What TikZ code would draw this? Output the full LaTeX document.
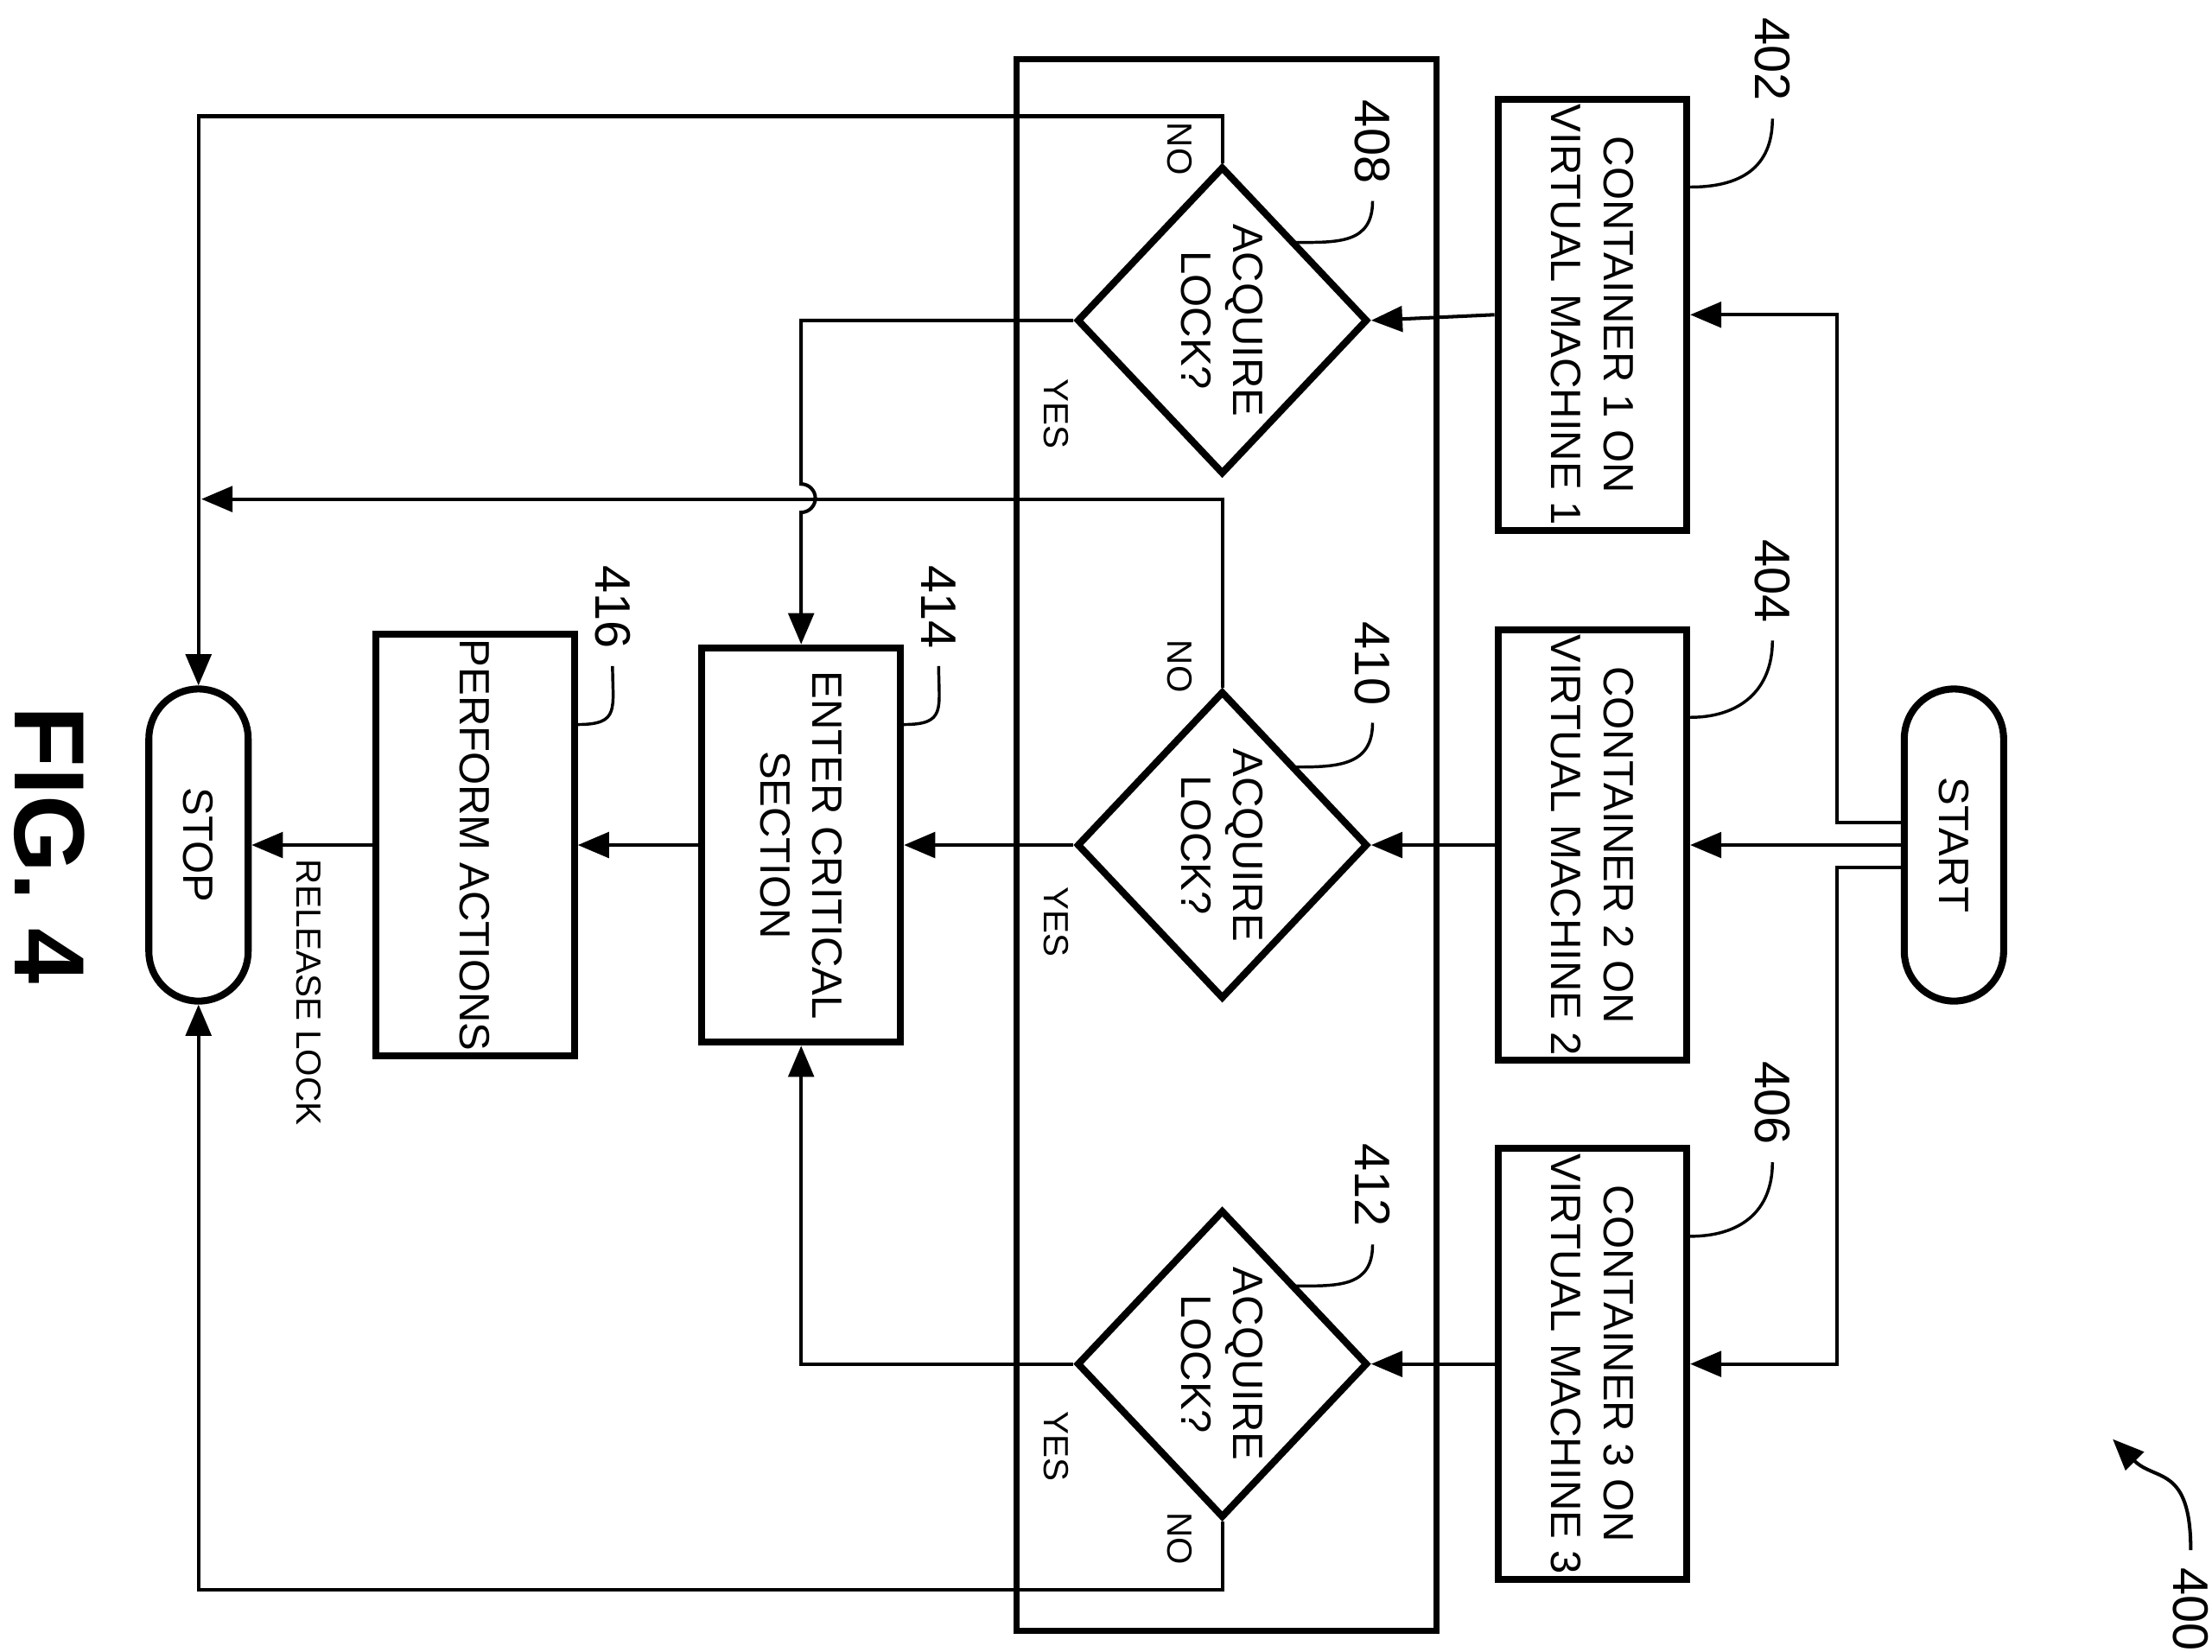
\documentclass[tikz,border=0pt]{standalone}
\usepackage{fontspec}
\setmainfont{Liberation Sans}
\usetikzlibrary{arrows.meta}
\usetikzlibrary{positioning, shapes.geometric, calc}

\tikzset{
  box/.style={draw, line width=1.4pt, rotate=-90, minimum width=2.78cm, minimum height=1.33cm, inner sep=1pt, align=center, font=\fontsize{8.5}{10.5}\selectfont},
  dec/.style={draw, line width=1.4pt, diamond, rotate=-90, minimum width=2.17cm, minimum height=2.05cm, inner sep=0pt, align=center, font=\fontsize{8.5}{10.5}\selectfont},
  term/.style={draw, line width=1.4pt, rounded corners=0.35cm, rotate=-90, minimum width=2.2cm, minimum height=0.7cm, font=\fontsize{8.5}{10.5}\selectfont},
  arr/.style={line width=0.7pt, -{Triangle[length=2.2mm,width=1.8mm]}},
  lbl/.style={rotate=-90, font=\fontsize{7}{9}\selectfont},
  num/.style={rotate=-90, font=\fontsize{10}{12}\selectfont},
  lead/.style={line width=0.6pt}
}

\begin{document}
\begin{tikzpicture}[x=0.01cm, y=-0.01cm]
\useasboundingbox (0,0) rectangle (1560,1165);

\draw[line width=1.2pt] (717,42) rectangle (1013,1150);

\node[term] (start) at (1378,596) {START};
\node[box] (c402) at (1123,222) {CONTAINER 1 ON\\VIRTUAL MACHINE 1};
\node[box] (c404) at (1123,596) {CONTAINER 2 ON\\VIRTUAL MACHINE 2};
\node[box] (c406) at (1123,962) {CONTAINER 3 ON\\VIRTUAL MACHINE 3};
\node[dec] (d408) at (862,226) {ACQUIRE\\LOCK?};
\node[dec] (d410) at (862,596) {ACQUIRE\\LOCK?};
\node[dec] (d412) at (862,962) {ACQUIRE\\LOCK?};
\node[box, minimum height=1.4cm] (c414) at (565,596) {ENTER CRITICAL\\SECTION};
\node[box, minimum height=1.4cm] (c416) at (335,596) {PERFORM ACTIONS};
\node[term] (stop) at (140,596) {STOP};

% --- Transitions ---
\draw[arr] (start.south) -- (c404.north);
\draw[arr] ([yshift=0.16cm]start.south) -- ++(-45,0) |- (c402.north);
\draw[arr] ([yshift=-0.16cm]start.south) -- ++(-45,0) |- (c406.north);
\draw[arr] (c402.south) -- (d408.north);
\draw[arr] (c404.south) -- (d410.north);
\draw[arr] (c406.south) -- (d412.north);
\draw[arr] (d408.south) -| ([yshift=1.13cm]c414.west) arc[start angle=90, end angle=-90, radius=0.1cm] -- (c414.west);
\draw[arr] (d410.south) -- (c414.north);
\draw[arr] (d412.south) -| (c414.east);
\draw[arr] (c414.south) -- (c416.north);
\draw[arr] (c416.south) -- (stop.north);
\draw[arr] (d408.west) -- ++(0,-33) -| (stop.west);
\draw[arr] (d412.east) -- ++(0,48) -| (stop.east);
\coordinate (j410) at (142,352);
\draw[arr] (d410.west) |- (j410);

\node[lbl] at (832,105) {NO};
\node[lbl] at (832,470) {NO};
\node[lbl] at (832,1085) {NO};
\node[lbl] at (745,292) {YES};
\node[lbl] at (745,650) {YES};
\node[lbl] at (745,1020) {YES};
\node[lbl] at (218,700) {RELEASE LOCK};

% --- reference numbers ---
\node[num] (l402) at (1250,42) {402};
\node[num] (l404) at (1250,410) {404};
\node[num] (l406) at (1250,778) {406};
\node[num] (l408) at (968,100) {408};
\node[num] (l410) at (968,468) {410};
\node[num] (l412) at (968,836) {412};
\node[num] (l414) at (662,428) {414};
\node[num] (l416) at (432,428) {416};
\node[num] (l400) at (1545,1135) {400};
\draw[lead] (l402.east) .. controls +(0,35) and +(35,0) .. ([yshift=0.9cm]c402.north);
\draw[lead] (l404.east) .. controls +(0,35) and +(35,0) .. ([yshift=0.9cm]c404.north);
\draw[lead] (l406.east) .. controls +(0,35) and +(35,0) .. ([yshift=0.9cm]c406.north);
\draw[lead] (l408.east) .. controls +(0,30) and +(30,0) .. ($(d408.center)+(52,-55)$);
\draw[lead] (l410.east) .. controls +(0,30) and +(30,0) .. ($(d410.center)+(52,-55)$);
\draw[lead] (l412.east) .. controls +(0,30) and +(30,0) .. ($(d412.center)+(52,-55)$);
\draw[lead] (l414.east) .. controls +(0,30) and +(30,0) .. ($(c414.north)+(0,-85)$);
\draw[lead] (l416.east) .. controls +(0,30) and +(30,0) .. ($(c416.north)+(0,-85)$);
\draw[arr] (l400.west) .. controls +(0,-60) and +(30,30) .. (1490,1015);

\node[rotate=-90, font=\fontsize{20}{24}\selectfont\bfseries] (fig) at (35,596) {FIG. 4};
\end{tikzpicture}
\end{document}
